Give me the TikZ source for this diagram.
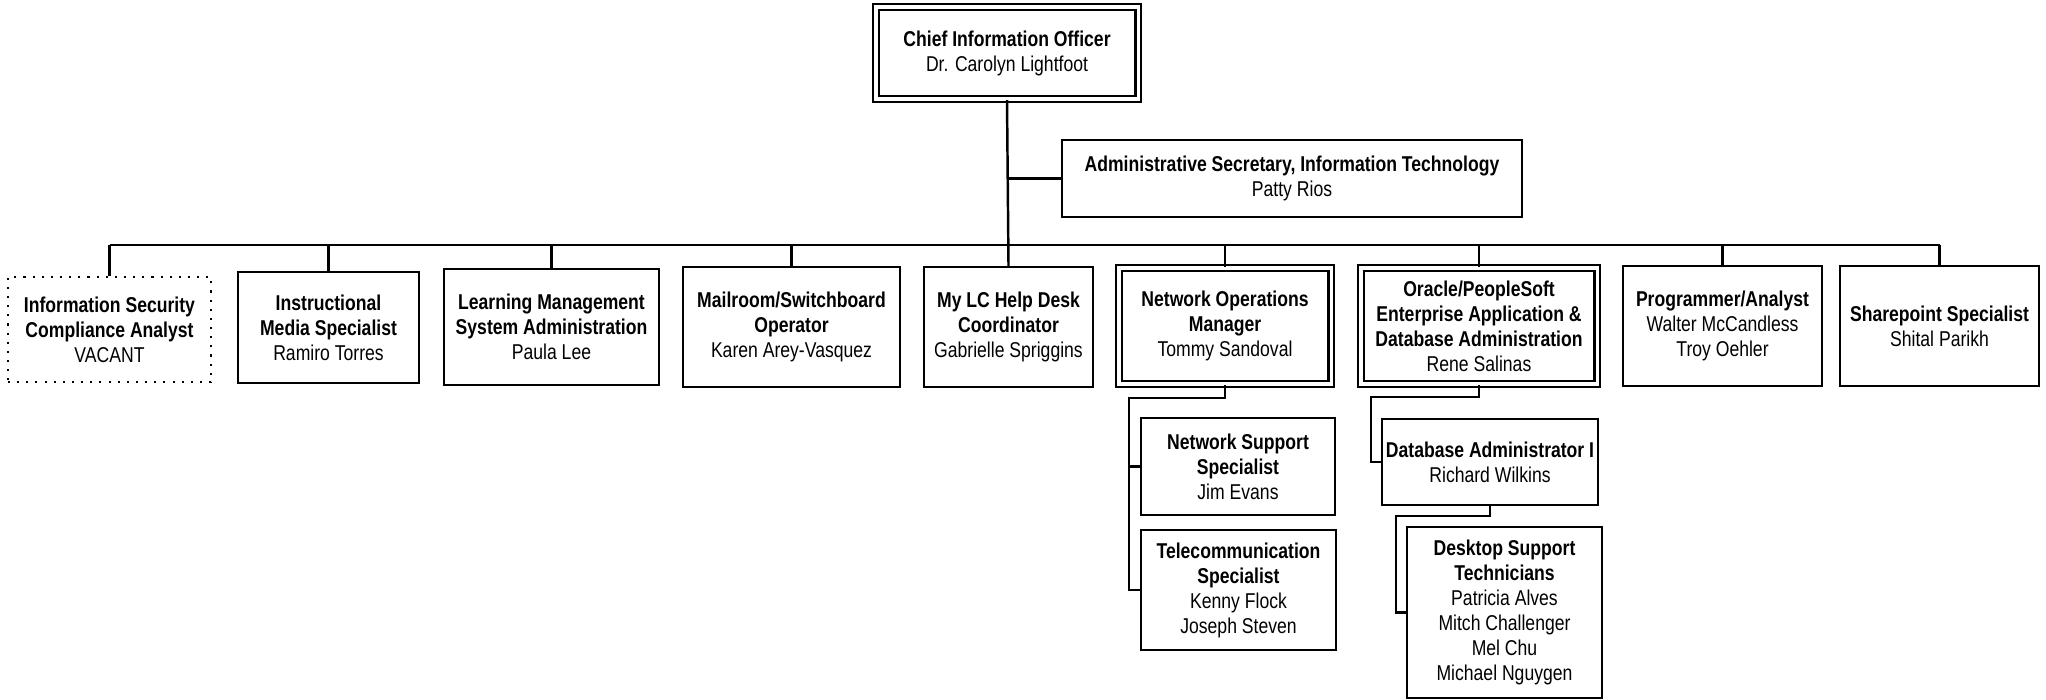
\documentclass[tikz,border=0pt]{standalone}
\usepackage{fontspec}
\setmainfont[FakeStretch=0.82]{Liberation Sans}
\tikzstyle{orgbox}=[draw,line width=.6pt,align=center,inner sep=0pt,font=\fontsize{6.1}{7.1}\selectfont]
\tikzstyle{mgrbox}=[orgbox,double,double distance=.9pt]
\tikzstyle{vacbox}=[orgbox,dotted,line width=.8pt]
\tikzstyle{ln}=[line width=.7pt]

\begin{document}
\begin{tikzpicture}[x=.01cm,y=-.01cm]
\useasboundingbox (0,0) rectangle (2046,699);
\node[mgrbox,minimum width=2.62cm,minimum height=.92cm] (cio) at (1007,53) {\textbf{Chief Information Officer}\\Dr. Carolyn Lightfoot};
\node[orgbox,minimum width=4.6cm,minimum height=.77cm] (sec) at (1292,178.5) {\textbf{Administrative Secretary, Information Technology}\\Patty Rios};
\node[vacbox,minimum width=2.03cm,minimum height=1.05cm] (infosec) at (109.5,329.5) {\textbf{Information Security}\\\textbf{Compliance Analyst}\\VACANT};
\node[orgbox,minimum width=1.81cm,minimum height=1.11cm] (instr) at (328.5,327.5) {\textbf{Instructional}\\\textbf{Media Specialist}\\Ramiro Torres};
\node[orgbox,minimum width=2.15cm,minimum height=1.16cm] (lms) at (551.5,327) {\textbf{Learning Management}\\\textbf{System Administration}\\Paula Lee};
\node[orgbox,minimum width=2.17cm,minimum height=1.2cm] (mail) at (791.5,327) {\textbf{Mailroom/Switchboard}\\\textbf{Operator}\\Karen Arey-Vasquez};
\node[orgbox,minimum width=1.69cm,minimum height=1.2cm] (mylc) at (1008.5,327) {\textbf{My LC Help Desk}\\\textbf{Coordinator}\\Gabrielle Spriggins};
\node[mgrbox,minimum width=2.12cm,minimum height=1.16cm] (netops) at (1225,326) {\textbf{Network Operations}\\\textbf{Manager}\\Tommy Sandoval};
\node[mgrbox,minimum width=2.36cm,minimum height=1.16cm] (oracle) at (1479,326) {\textbf{Oracle/PeopleSoft}\\\textbf{Enterprise Application \&}\\\textbf{Database Administration}\\Rene Salinas};
\node[orgbox,minimum width=1.99cm,minimum height=1.2cm] (prog) at (1722.5,326) {\textbf{Programmer/Analyst}\\Walter McCandless\\Troy Oehler};
\node[orgbox,minimum width=1.99cm,minimum height=1.2cm] (share) at (1939.5,326) {\textbf{Sharepoint Specialist}\\Shital Parikh};
\node[orgbox,minimum width=1.94cm,minimum height=.97cm] (netsup) at (1238,466.5) {\textbf{Network Support}\\\textbf{Specialist}\\Jim Evans};
\node[orgbox,minimum width=1.95cm,minimum height=1.2cm] (telecom) at (1238.5,590) {\textbf{Telecommunication}\\\textbf{Specialist}\\Kenny Flock\\Joseph Steven};
\node[orgbox,minimum width=2.16cm,minimum height=.86cm] (dba) at (1490,462) {\textbf{Database Administrator I}\\Richard Wilkins};
\node[orgbox,minimum width=1.95cm,minimum height=1.71cm] (desk) at (1504.5,612.5) {\textbf{Desktop Support}\\\textbf{Technicians}\\Patricia Alves\\Mitch Challenger\\Mel Chu\\Michael Nguygen};
\coordinate (bus) at (0,245); \coordinate (nj) at (1129,398); \coordinate (oj) at (1371,397); \coordinate (dj) at (1396,516);
\draw[ln] (cio.south) -- (mylc.north); \draw[ln] (cio.south |- sec.west) -- (sec.west);
\draw[ln] (infosec.north |- bus) -- (share.north |- bus);
\draw[ln] (infosec.north |- bus) -- (infosec.north); \draw[ln] (instr.north |- bus) -- (instr.north); \draw[ln] (lms.north |- bus) -- (lms.north); \draw[ln] (mail.north |- bus) -- (mail.north); \draw[ln] (netops.north |- bus) -- (netops.north); \draw[ln] (oracle.north |- bus) -- (oracle.north); \draw[ln] (prog.north |- bus) -- (prog.north); \draw[ln] (share.north |- bus) -- (share.north);
\draw[ln] (netops.south) |- (nj) |- (netsup.west); \draw[ln] (nj) |- (telecom.west);
\draw[ln] (oracle.south) |- (oj) |- (dba.west);
\draw[ln] (dba.south) |- (dj) |- (desk.west);
\end{tikzpicture}
\end{document}
